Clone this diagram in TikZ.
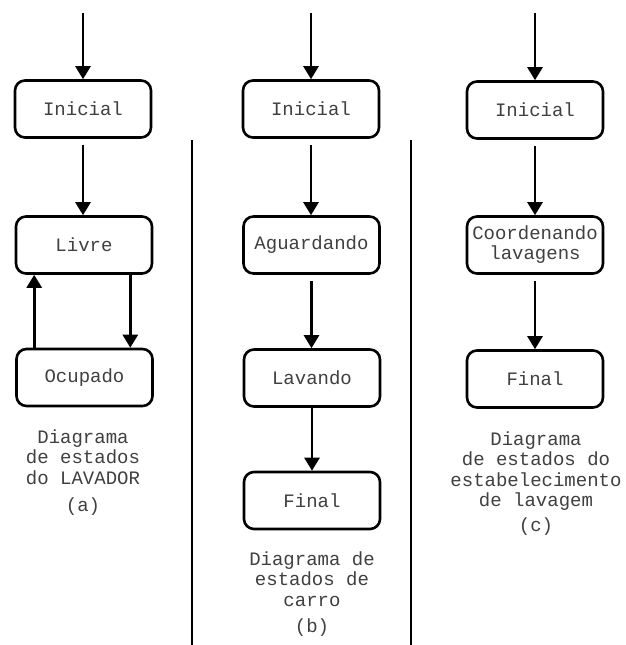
\documentclass[tikz,border=0pt]{standalone}
\usepackage{fontspec}
\setmainfont{Liberation Mono}
\usetikzlibrary{arrows.meta,calc}
\definecolor{txt}{gray}{0.25}
\tikzset{
  statebox/.style={draw=black, line width=2.6pt, rounded corners=10pt,
    minimum width=136pt, minimum height=57pt, inner sep=0pt,
    text=txt, font=\fontsize{19}{20}\selectfont, align=center},
  arr/.style={draw=black, line width=2.7pt,
    -{Triangle[length=13pt,width=15pt]}},
  caption/.style={text=txt, font=\fontsize{19}{20.5}\selectfont, align=center, inner sep=0pt},
  divider/.style={draw=black, line width=2pt}
}
\begin{document}
\begin{tikzpicture}[x=1pt,y=-1pt]
\useasboundingbox[fill=white] (0,0) rectangle (626,645);
% column a
\node[statebox] (ai) at (83,109) {Inicial};
\node[statebox] (al) at (84,245) {Livre};
\node[statebox] (ao) at (84.5,377.5) {Ocupado};
\coordinate (as) at (83,13);
\draw[arr] (as) -- (ai.north);
\draw[arr, shorten <=6pt] (ai.south) -- (ai.south |- al.north);
\draw[arr] ([xshift=19pt]ao.north west) -- ([xshift=19pt]ao.north west |- al.south);
\draw[arr] ([xshift=-23pt]al.south east) -- ([xshift=-23pt]al.south east |- ao.north);
\node[caption] (acap) at (83,457) {Diagrama\\de estados\\do LAVADOR};
\node[caption] (alab) at (83,507) {(a)};
% dividers
\coordinate (d1t) at (192,140);
\coordinate (d1b) at (192,645);
\coordinate (d2t) at (411,140);
\coordinate (d2b) at (411,645);
\draw[divider] (d1t) -- (d1b);
\draw[divider] (d2t) -- (d2b);
% column b
\node[statebox] (bi) at (311,109) {Inicial};
\node[statebox] (ba) at (311.5,245) {Aguardando};
\node[statebox] (bl) at (312,378) {Lavando};
\node[statebox] (bf) at (312,500.5) {Final};
\coordinate (bs) at (311,13);
\draw[arr] (bs) -- (bi.north);
\draw[arr, shorten <=6pt] (bi.south) -- (bi.south |- ba.north);
\draw[arr, shorten <=6pt] (ba.south) -- (ba.south |- bl.north);
\draw[arr] (bl.south) -- (bl.south |- bf.north);
\node[caption] (bcap) at (312,579) {Diagrama de\\estados de\\carro};
\node[caption] (blab) at (312,628) {(b)};
% column c
\node[statebox] (ci) at (535,110) {Inicial};
\node[statebox] (cc) at (535,245) {Coordenando\\lavagens};
\node[statebox] (cf) at (535,379) {Final};
\coordinate (cs) at (535,13);
\draw[arr] (cs) -- (ci.north);
\draw[arr, shorten <=6pt] (ci.south) -- (cc.north);
\draw[arr, shorten <=6pt] (cc.south) -- (cf.north);
\node[caption] (ccap) at (536,471) {Diagrama\\de estados do\\estabelecimento\\de lavagem};
\node[caption] (clab) at (536,527) {(c)};
\end{tikzpicture}
\end{document}
